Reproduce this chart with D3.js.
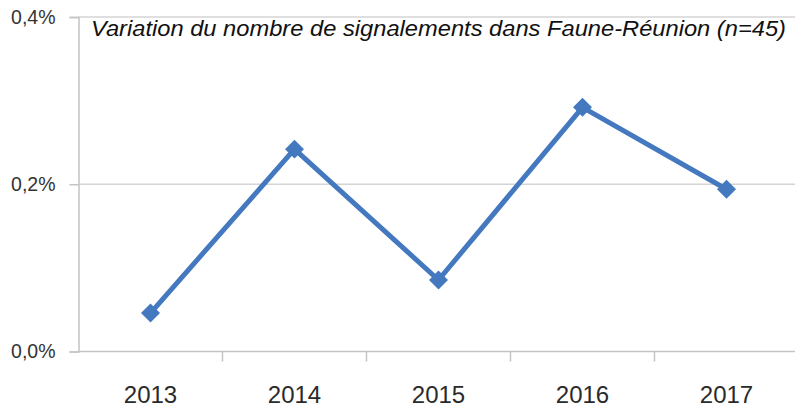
<!DOCTYPE html>
<html>
<head>
<meta charset="utf-8">
<script src="https://cdn.jsdelivr.net/npm/d3@7"></script>
<style>
  body { margin: 0; background: #fff; }
  svg { display: block; }
</style>
</head>
<body>
<div id="chart"></div>
<script>
var years = ["2013", "2014", "2015", "2016", "2017"];
var values = [0.046, 0.242, 0.0855, 0.292, 0.194];
var yTicks = [0, 0.2, 0.4];
var title = "Variation du nombre de signalements dans Faune-Réunion (n=45)";

var w = 795, h = 409;
var plotLeft = 78.5, plotTop = 17, plotBottom = 351.5;

var svg = d3.select("#chart").append("svg").attr("width", w).attr("height", h);

var x = d3.scaleBand()
    .domain(years)
    .range([plotLeft, plotLeft + 5 * 144]);

var y = d3.scaleLinear()
    .domain([0, 0.4])
    .range([plotBottom, plotTop]);

// gridlines
svg.append("g").selectAll("line")
  .data(yTicks.filter(function(d) { return d > 0; }))
  .enter().append("line")
    .attr("x1", plotLeft).attr("x2", w)
    .attr("y1", function(d) { return y(d); })
    .attr("y2", function(d) { return y(d); })
    .attr("stroke", "#d4d4d4")
    .attr("stroke-width", 1.5);

// y axis
var yAxis = svg.append("g")
    .attr("transform", "translate(" + plotLeft + ",0)")
    .call(d3.axisLeft(y).tickValues(yTicks).tickSize(9).tickPadding(14)
      .tickFormat(function(d) { return d3.format(".1f")(d).replace(".", ",") + "%"; }));
yAxis.select(".domain").attr("stroke", "#c4c4c4").attr("stroke-width", 1.5);
yAxis.selectAll(".tick line").attr("stroke", "#c4c4c4").attr("stroke-width", 1.5);
yAxis.selectAll("text")
    .attr("font-family", "Liberation Sans, Arial, sans-serif")
    .attr("font-size", "19.5px")
    .attr("fill", "#333");

// x axis
var xAxis = svg.append("g")
    .attr("transform", "translate(0," + plotBottom + ")")
    .call(d3.axisBottom(x).tickSize(0).tickPadding(34));
xAxis.select(".domain").remove();
xAxis.append("line")
    .attr("x1", plotLeft).attr("x2", w)
    .attr("stroke", "#c4c4c4").attr("stroke-width", 1.5);
xAxis.selectAll(".sep")
  .data(years.slice(1))
  .enter().append("line")
    .attr("class", "sep")
    .attr("x1", function(d) { return x(d); })
    .attr("x2", function(d) { return x(d); })
    .attr("y1", 0).attr("y2", 10)
    .attr("stroke", "#c4c4c4").attr("stroke-width", 1.5);
xAxis.selectAll("text")
    .attr("font-family", "Liberation Sans, Arial, sans-serif")
    .attr("font-size", "24px")
    .attr("fill", "#2a2a2a");

// line
var line = d3.line()
    .x(function(d, i) { return x(years[i]) + x.bandwidth() / 2; })
    .y(function(d) { return y(d); });

svg.append("path")
    .datum(values)
    .attr("d", line)
    .attr("fill", "none")
    .attr("stroke", "#4479c0")
    .attr("stroke-width", 5)
    .attr("stroke-linejoin", "round");

svg.append("g").selectAll("path")
  .data(values)
  .enter().append("path")
    .attr("d", d3.symbol().type(d3.symbolSquare).size(180))
    .attr("transform", function(d, i) {
      return "translate(" + (x(years[i]) + x.bandwidth() / 2) + "," + y(d) + ") rotate(45)";
    })
    .attr("fill", "#4479c0");

// title
svg.append("text")
    .attr("x", 91)
    .attr("y", 36)
    .attr("font-family", "Liberation Sans, Arial, sans-serif")
    .attr("font-style", "italic")
    .attr("font-size", "22px")
    .attr("fill", "#111")
    .attr("textLength", 695)
    .attr("lengthAdjust", "spacingAndGlyphs")
    .text(title);
</script>
</body>
</html>
